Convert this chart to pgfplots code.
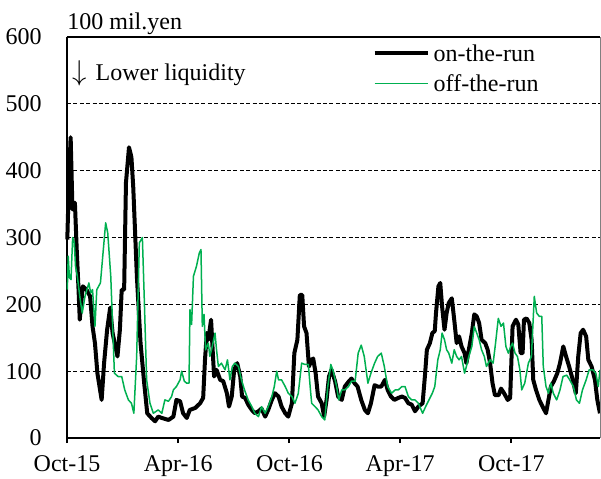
\documentclass[border=0pt]{standalone}
\usepackage{fontspec}
\setmainfont{Liberation Serif}
\usepackage{pgfplots}
\pgfplotsset{compat=1.18}
\definecolor{offgreen}{RGB}{0,176,80}

\begin{document}
\fontsize{12bp}{14bp}\selectfont
\begin{tikzpicture}
\begin{axis}[name=ax, scale only axis, width=266.5bp, height=200.5bp,
 xmin=0, xmax=876.8, ymin=0, ymax=600,
 axis x line*=bottom, axis y line*=left,
 axis line style={line width=1.2bp, black},
 xtick={0,183,366,548,731}, xticklabels={Oct-15,Apr-16,Oct-16,Apr-17,Oct-17},
 ytick={0,100,...,600},
 tick align=outside, major tick length=2.5bp,
 x tick style={black, line width=1bp},
 y tick style={draw=none},
 ymajorgrids, grid style={black, line width=0.5bp, dash pattern=on 2bp off 1.2bp},
 /pgf/number format/assume math mode=true,
 tick label style={font=\fontsize{12bp}{14bp}\selectfont},
 yticklabel style={inner sep=0pt, xshift=-10bp},
 xticklabel style={inner sep=0pt, yshift=-6bp},
 clip=false,
 legend style={at={(0.893,0.991)}, anchor=north east, draw=none, fill=none,
   font=\fontsize{12bp}{14bp}\selectfont, inner sep=0pt, row sep=3bp,
   nodes={inner sep=2bp, text depth=0pt, text height=8.2bp}},
 legend image code/.code={\draw[#1] (0bp,0bp) -- (26.5bp,0bp);},
 legend cell align=left,
]
\addplot[black, line width=2bp, line join=round] coordinates {
(0.5,297)(3,380)(6,450)(9,342)(13,352)(16,282)(19,222)(21,177)(26,227)(32,222)
(38,212)(42,167)(46,142)(50,97)(57,57)(61,112)(66,162)(71,195)(75,157)(83,122)
(87,162)(90,222)(94,222)(97,382)(102,435)(106,420)(109,375)(115,241)(121,142)(127,82)
(132,37)(139,30)(145,25)(150,32)(156,30)(167,27)(175,32)(180,57)(186,55)(191,37)
(197,30)(202,42)(211,45)(219,52)(224,60)(227,117)(230,157)(232.5,147)(237,177)(239,142)
(242,92)(246,102)(252,87)(257,85)(263,67)(266.5,47)(271,62)(275,102)(280,112)(285,92)
(288,62)(293,60)(298,50)(304,42)(309,37)(315,40)(320,44)(326,32)(331,42)(337,57)
(342,67)(348,62)(353,47)(359,37)(364,32)(370,52)(374,127)(379,147)(383,214)(387,214)
(390,167)(394,157)(398,107)(402.5,117)(405,119)(409,97)(413,62)(419,52)(423,32)(427,57)
(431,92)(435,102)(441,85)(446,62)(452,57)(457,77)(463,84)(468,89)(473,82)(478,77)
(484,57)(490,42)(495,37)(500,52)(506,79)(511,77)(517,77)(523,87)(527.5,72)(533,62)
(538.5,57)(545,60)(551,62)(556,60)(561.5,52)(567,50)(572.5,40)(578,47)(585,52)(589,95)
(592,132)(597,142)(601,157)(605,160)(607,187)(611,227)(614,232)(617,197)(621,162)(624.5,187)
(628,202)(633,209)(637,177)(641,142)(645,152)(649,137)(654,127)(657,112)(661,132)(666,157)
(670,185)(674,182)(678,172)(682,147)(688,142)(692,132)(696,112)(700,82)(704,64)(710,64)
(714,74)(719,67)(725,57)(729,60)(733,167)(738.6,177)(742.4,170)(746.2,127)(749.5,127)(751.7,177)
(756,179)(760.5,172)(764.3,147)(767,87)(771.5,72)(777,57)(782.4,47)(788,37)(792,57)(796,77)
(801,85)(806.6,97)(811,112)(816.4,137)(821,122)(826,107)(832,87)(837,67)(841,122)(845,157)
(849,162)(854,152)(857.6,117)(863,107)(868.5,87)(872.4,57)(876.7,37)
};
\addlegendentry{on-the-run}
\addplot[offgreen, line width=0.75bp, line join=round] coordinates {
(0.5,222)(2,272)(4,240)(6.6,237)(9.3,300)(12,292)(14,257)(17,242)(21,212)(25,187)
(29.6,212)(36,232)(39,217)(42,222)(46,167)(49,222)(55,232)(63.6,322)(67,307)(72,242)
(78,97)(84,92)(90,92)(95,72)(101,57)(106,52)(110,37)(114.6,122)(119,292)(124,300)
(127,212)(131,87)(136.5,52)(142,37)(150,42)(156,37)(161,57)(167,55)(172,62)(175,72)
(180,77)(186,87)(188.6,100)(193,85)(197,82)(200.7,82)(202.3,192)(205,170)(208,242)(213,257)
(217.7,277)(220.4,282)(222.6,167)(225.4,185)(228,132)(232.5,142)(235,122)(239,137)(243.5,157)(246,132)
(249,107)(254,112)(260,102)(264,117)(268,87)(272,107)(276,112)(282,107)(287,87)(292,72)
(298,57)(304,47)(309,37)(315,32)(320,47)(326,37)(331,47)(337,62)(341,77)(345,100)
(348,87)(353,87)(359,77)(364,67)(370,62)(375,52)(380.5,67)(386,112)(391.5,110)(397,110)
(400,77)(402.5,52)(408,47)(413,42)(419,32)(424,27)(429,77)(434,110)(438,100)(443.6,77)
(447,57)(452,72)(457,72)(463,77)(468,85)(474,85)(479,127)(484,139)(489,122)(495,82)
(500,97)(506,112)(511,122)(517,127)(522,107)(527.5,77)(534,67)(540,72)(545,72)(551,77)
(556,77)(561.5,62)(567,57)(572.5,57)(578,52)(585,37)(590,47)(595.5,57)(601,67)(605,77)
(610,117)(614,132)(617,157)(621,147)(624.5,132)(628,127)(633,112)(637,132)(641,122)(645,117)
(649,122)(654,97)(657,107)(661,122)(666,137)(670,167)(674,157)(678,147)(682,132)(686.5,122)
(690,107)(696,117)(701,112)(705,142)(709.5,179)(714,167)(718,172)(722,137)(726,127)(730,137)
(733,142)(737,127)(741,122)(745,102)(748,72)(753,82)(759,112)(764,122)(768.7,212)(772.6,187)
(777,182)(781,182)(783.5,107)(788,77)(792,67)(796,82)(800,67)(805.5,57)(811,72)(816,92)
(822,94)(827,87)(833,77)(838,57)(843,52)(848,72)(854,87)(859,102)(865,102)(870,97)
(874,77)(876.7,102)
};
\addlegendentry{off-the-run}
\draw[black, line width=1bp] (rel axis cs:0,1) -- (rel axis cs:1,1);
\draw[gray, line width=0.5bp] (rel axis cs:1,0) -- (rel axis cs:1,1);
\end{axis}
\node[anchor=base west, inner sep=0pt] at ([xshift=0bp,yshift=3.5bp]ax.north west) {100 mil.yen};
\node[anchor=base west, inner sep=0pt] at ([xshift=2.5bp,yshift=-22bp]ax.north west) {{\fontsize{13.5bp}{14bp}\selectfont$\downarrow$}\hspace{4.5bp}Lower liquidity};
\pgfresetboundingbox
\path[use as bounding box] ([xshift=-33.5bp,yshift=-20.5bp]ax.south west) rectangle ([xshift=0.5bp,yshift=18.5bp]ax.north east);
\end{tikzpicture}
\end{document}
